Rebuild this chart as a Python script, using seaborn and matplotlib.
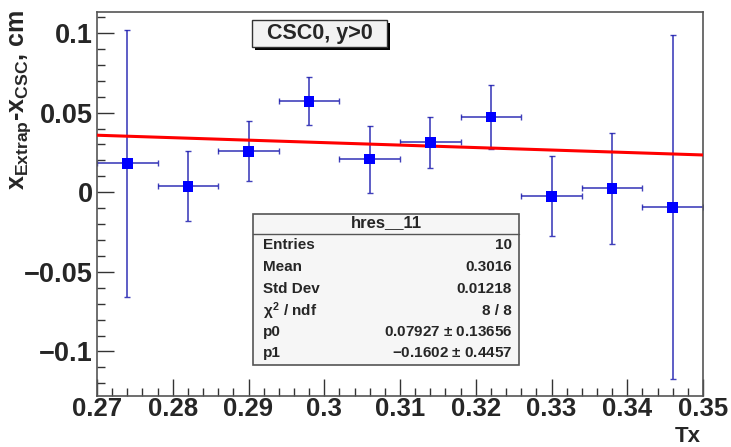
import numpy as np
import pandas as pd
import matplotlib
matplotlib.use("Agg")
import matplotlib.pyplot as plt
import seaborn as sns
from matplotlib.patches import Rectangle
from matplotlib.ticker import MultipleLocator

# =========================
# Data
# =========================

tx = [0.274, 0.282, 0.290, 0.298, 0.306, 0.314, 0.322, 0.330, 0.338, 0.346]
tx_err = [0.004] * 10
dx = [0.0182, 0.0038, 0.0258, 0.0572, 0.0208, 0.0314, 0.0472, -0.0025, 0.0025, -0.0094]
dx_err = [0.084, 0.022, 0.019, 0.015, 0.021, 0.016, 0.020, 0.025, 0.035, 0.108]

fit_x = [0.27, 0.35]
fit_y = [0.0358, 0.0234]

x_ticks = [0.27, 0.28, 0.29, 0.30, 0.31, 0.32, 0.33, 0.34, 0.35]
x_tick_labels = ["0.27", "0.28", "0.29", "0.3", "0.31", "0.32", "0.33", "0.34", "0.35"]
y_ticks = [-0.1, -0.05, 0, 0.05, 0.1]
y_tick_labels = ["\u22120.1", "\u22120.05", "0", "0.05", "0.1"]

stat_names = ["Entries", "Mean", "Std Dev", r"$\chi^2$ / ndf", "p0", "p1"]
stat_values = ["10", "0.3016", "0.01218", "8 / 8",
               "0.07927 $\\pm$ 0.13656", "\u22120.1602 $\\pm$ 0.4457"]

df = pd.DataFrame({"tx": tx, "dx": dx})
fit_df = pd.DataFrame({"tx": fit_x, "dx": fit_y})

# =========================
# Plot
# =========================

sns.set_style("white")
plt.rcParams["font.family"] = ["Liberation Sans", "DejaVu Sans"]
plt.rcParams["font.weight"] = "bold"
plt.rcParams["mathtext.fontset"] = "custom"
plt.rcParams["mathtext.rm"] = "Liberation Sans:bold"
plt.rcParams["mathtext.it"] = "Liberation Sans:bold"
plt.rcParams["mathtext.bf"] = "Liberation Sans:bold"

W, H = 731, 447
fig = plt.figure(figsize=(7.31, 4.47), dpi=100)
ax = fig.add_axes([97 / W, 1 - 396 / H, (703 - 97) / W, (396 - 12) / H])

ax.errorbar(tx, dx, xerr=tx_err, yerr=dx_err, fmt="none",
            ecolor="#2020b0", elinewidth=1.2, capsize=2.5, capthick=1.0, alpha=0.85)
sns.lineplot(data=fit_df, x="tx", y="dx", color="red", linewidth=2.2, ax=ax, zorder=3)
sns.scatterplot(data=df, x="tx", y="dx", marker="s", s=60, color="#0000ff",
                edgecolor="none", ax=ax, zorder=4)

ax.set_xlim(0.27, 0.35)
ax.set_ylim(-0.128, 0.1132)
ax.xaxis.set_minor_locator(MultipleLocator(0.002))
ax.yaxis.set_minor_locator(MultipleLocator(0.01))
ax.set_xticks(x_ticks)
ax.set_xticklabels(x_tick_labels, fontweight="bold")
ax.set_yticks(y_ticks)
ax.set_yticklabels(y_tick_labels, fontweight="bold")

ax.tick_params(which="both", direction="in", left=True, bottom=True,
               right=False, top=False, labelsize=19.5, color="#333333")
ax.tick_params(which="major", length=12, width=1)
ax.tick_params(which="minor", length=6, width=1)
ax.tick_params(axis="x", pad=1, labelsize=18.5)
ax.tick_params(axis="y", pad=3)
for s in ax.spines.values():
    s.set_color("#555555")
    s.set_linewidth(1.2)

ax.set_xlabel("")
ax.set_ylabel("")
fig.text(688 / W, 1 - 446.5 / H, "Tx", ha="center", va="bottom", fontsize=16, fontweight="bold")
fig.text(21 / W, 1 - 100 / H, r"$\mathregular{x_{Extrap}\text{-}x_{CSC}}$, cm",
         rotation=90, ha="center", va="center", fontsize=18, fontweight="bold")

# title box with shadow
fig.patches.append(Rectangle((255 / W, 1 - 50 / H), 135 / W, 27 / H,
                             transform=fig.transFigure, facecolor="black", edgecolor="none", zorder=5))
fig.patches.append(Rectangle((252 / W, 1 - 47 / H), 135 / W, 27 / H,
                             transform=fig.transFigure, facecolor="#f2f2f2", edgecolor="#333333",
                             linewidth=1, zorder=6))
fig.text(320 / W, 1 - 34 / H, "CSC0, y>0", ha="center", va="center",
         fontsize=15.5, fontweight="bold", zorder=7)

# stats box
fig.patches.append(Rectangle((253 / W, 1 - 365 / H), 266 / W, 151 / H,
                             transform=fig.transFigure, facecolor="#f6f6f6", edgecolor="#555555",
                             linewidth=1.2, zorder=5))
fig.lines.append(plt.Line2D([253 / W, 519 / W], [1 - 233.5 / H, 1 - 233.5 / H],
                            transform=fig.transFigure, color="#555555", linewidth=1, zorder=6))
fig.text(386 / W, 1 - 223 / H, "hres__11", ha="center", va="center",
         fontsize=12, fontweight="bold", zorder=7)
row_y = [245, 267, 289, 311, 332, 353]
for name, val, yy in zip(stat_names, stat_values, row_y):
    fig.text(263 / W, 1 - yy / H, name, ha="left", va="center", fontsize=11,
             fontweight="bold", zorder=7)
    fig.text(512 / W, 1 - yy / H, val, ha="right", va="center", fontsize=11,
             fontweight="bold", zorder=7)

fig.savefig("out.png", dpi=100)
